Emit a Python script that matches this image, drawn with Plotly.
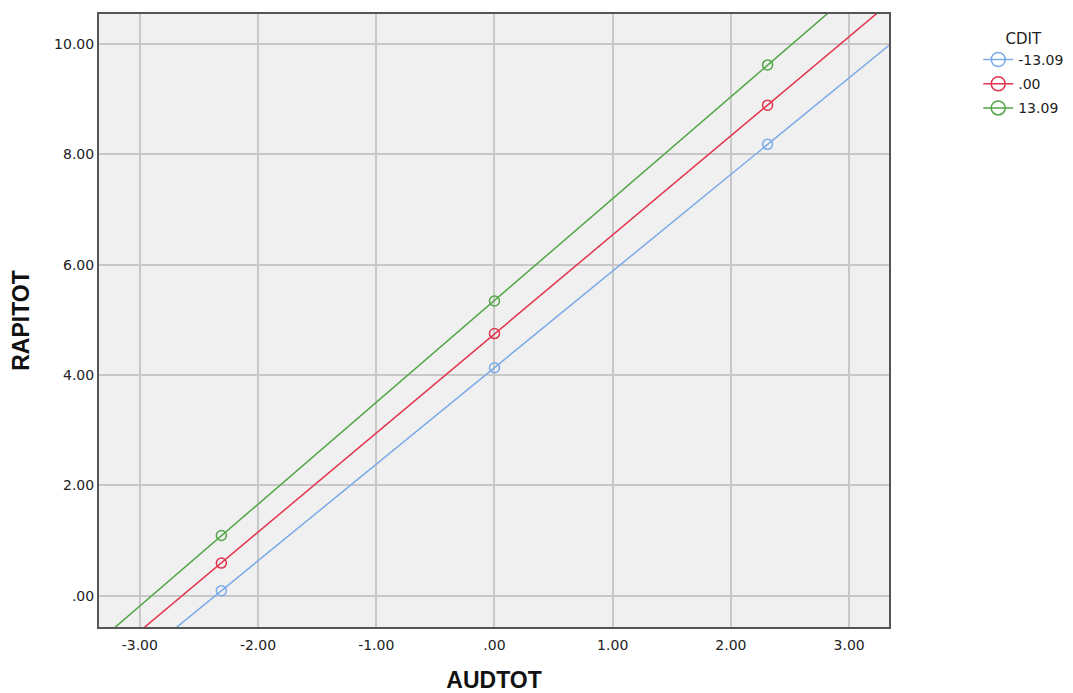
import numpy as np
import plotly.graph_objects as go

# Data
groups = ["-13.09", ".00", "13.09"]
audtot = [-2.31, 0.00, 2.31]
rapitot_low = [0.09, 4.13, 8.18]
rapitot_mid = [0.59, 4.75, 8.89]
rapitot_high = [1.09, 5.34, 9.62]
series = [rapitot_low, rapitot_mid, rapitot_high]
colors = ["#7aaae8", "#e3344e", "#52a547"]

x_ticks = [-3, -2, -1, 0, 1, 2, 3]
x_tick_text = ["-3.00", "-2.00", "-1.00", ".00", "1.00", "2.00", "3.00"]
y_ticks = [0, 2, 4, 6, 8, 10]
y_tick_text = [".00", "2.00", "4.00", "6.00", "8.00", "10.00"]

x_range = [-3.345, 3.337]
y_range = [-0.569, 10.543]

fig = go.Figure()
for name, ys, col in zip(groups, series, colors):
    slope, intercept = np.polyfit(audtot, ys, 1)
    xs = np.array(x_range)
    fig.add_trace(go.Scatter(
        x=xs, y=intercept + slope * xs, mode="lines",
        line=dict(color=col, width=1.5), showlegend=False,
        legendgroup=name, hoverinfo="skip"))
    fig.add_trace(go.Scatter(
        x=audtot, y=ys, mode="markers", name=name, legendgroup=name,
        showlegend=False,
        marker=dict(symbol="circle-open", size=10, color=col, line=dict(width=1.5))))
    # legend entry (larger symbol, as in the original legend)
    fig.add_trace(go.Scatter(
        x=[None], y=[None], mode="lines+markers", name=name, legendgroup=name,
        line=dict(color=col, width=1.5),
        marker=dict(symbol="circle-open", size=14, color=col, line=dict(width=1.5))))

tick_font = dict(family="DejaVu Sans", size=14, color="#222222")
title_font = dict(family="Liberation Sans, Arial", size=23, color="#111111")

axis_common = dict(
    showgrid=True, gridcolor="#c8c8c8", gridwidth=1.5,
    zeroline=False, showline=True, linecolor="#555555", linewidth=2, mirror=True,
    ticks="", tickfont=tick_font, automargin=False,
)

fig.update_layout(
    width=1065, height=685,
    margin=dict(l=91, r=184, t=6, b=66),
    paper_bgcolor="white", plot_bgcolor="#f0f0f0",
    font=dict(family="DejaVu Sans", color="#222222"),
    xaxis=dict(range=x_range, tickvals=x_ticks, ticktext=x_tick_text,
               ticklabelstandoff=4,
               title=dict(text="<b>AUDTOT</b>", font=title_font, standoff=24),
               **axis_common),
    yaxis=dict(range=y_range, tickvals=y_ticks, ticktext=y_tick_text,
               title=dict(text="<b>RAPITOT</b>", font=title_font, standoff=18),
               **axis_common),
    legend=dict(
        title=dict(text="CDIT", font=dict(family="DejaVu Sans", size=15), side="top center"),
        font=dict(family="DejaVu Sans", size=14, color="#222222"),
        xref="container", yref="container",
        x=0.911, y=0.976, xanchor="left", yanchor="top",
        bgcolor="rgba(0,0,0,0)", tracegroupgap=3, itemwidth=30,
    ),
    showlegend=True,
)

fig.write_html("out.html")
